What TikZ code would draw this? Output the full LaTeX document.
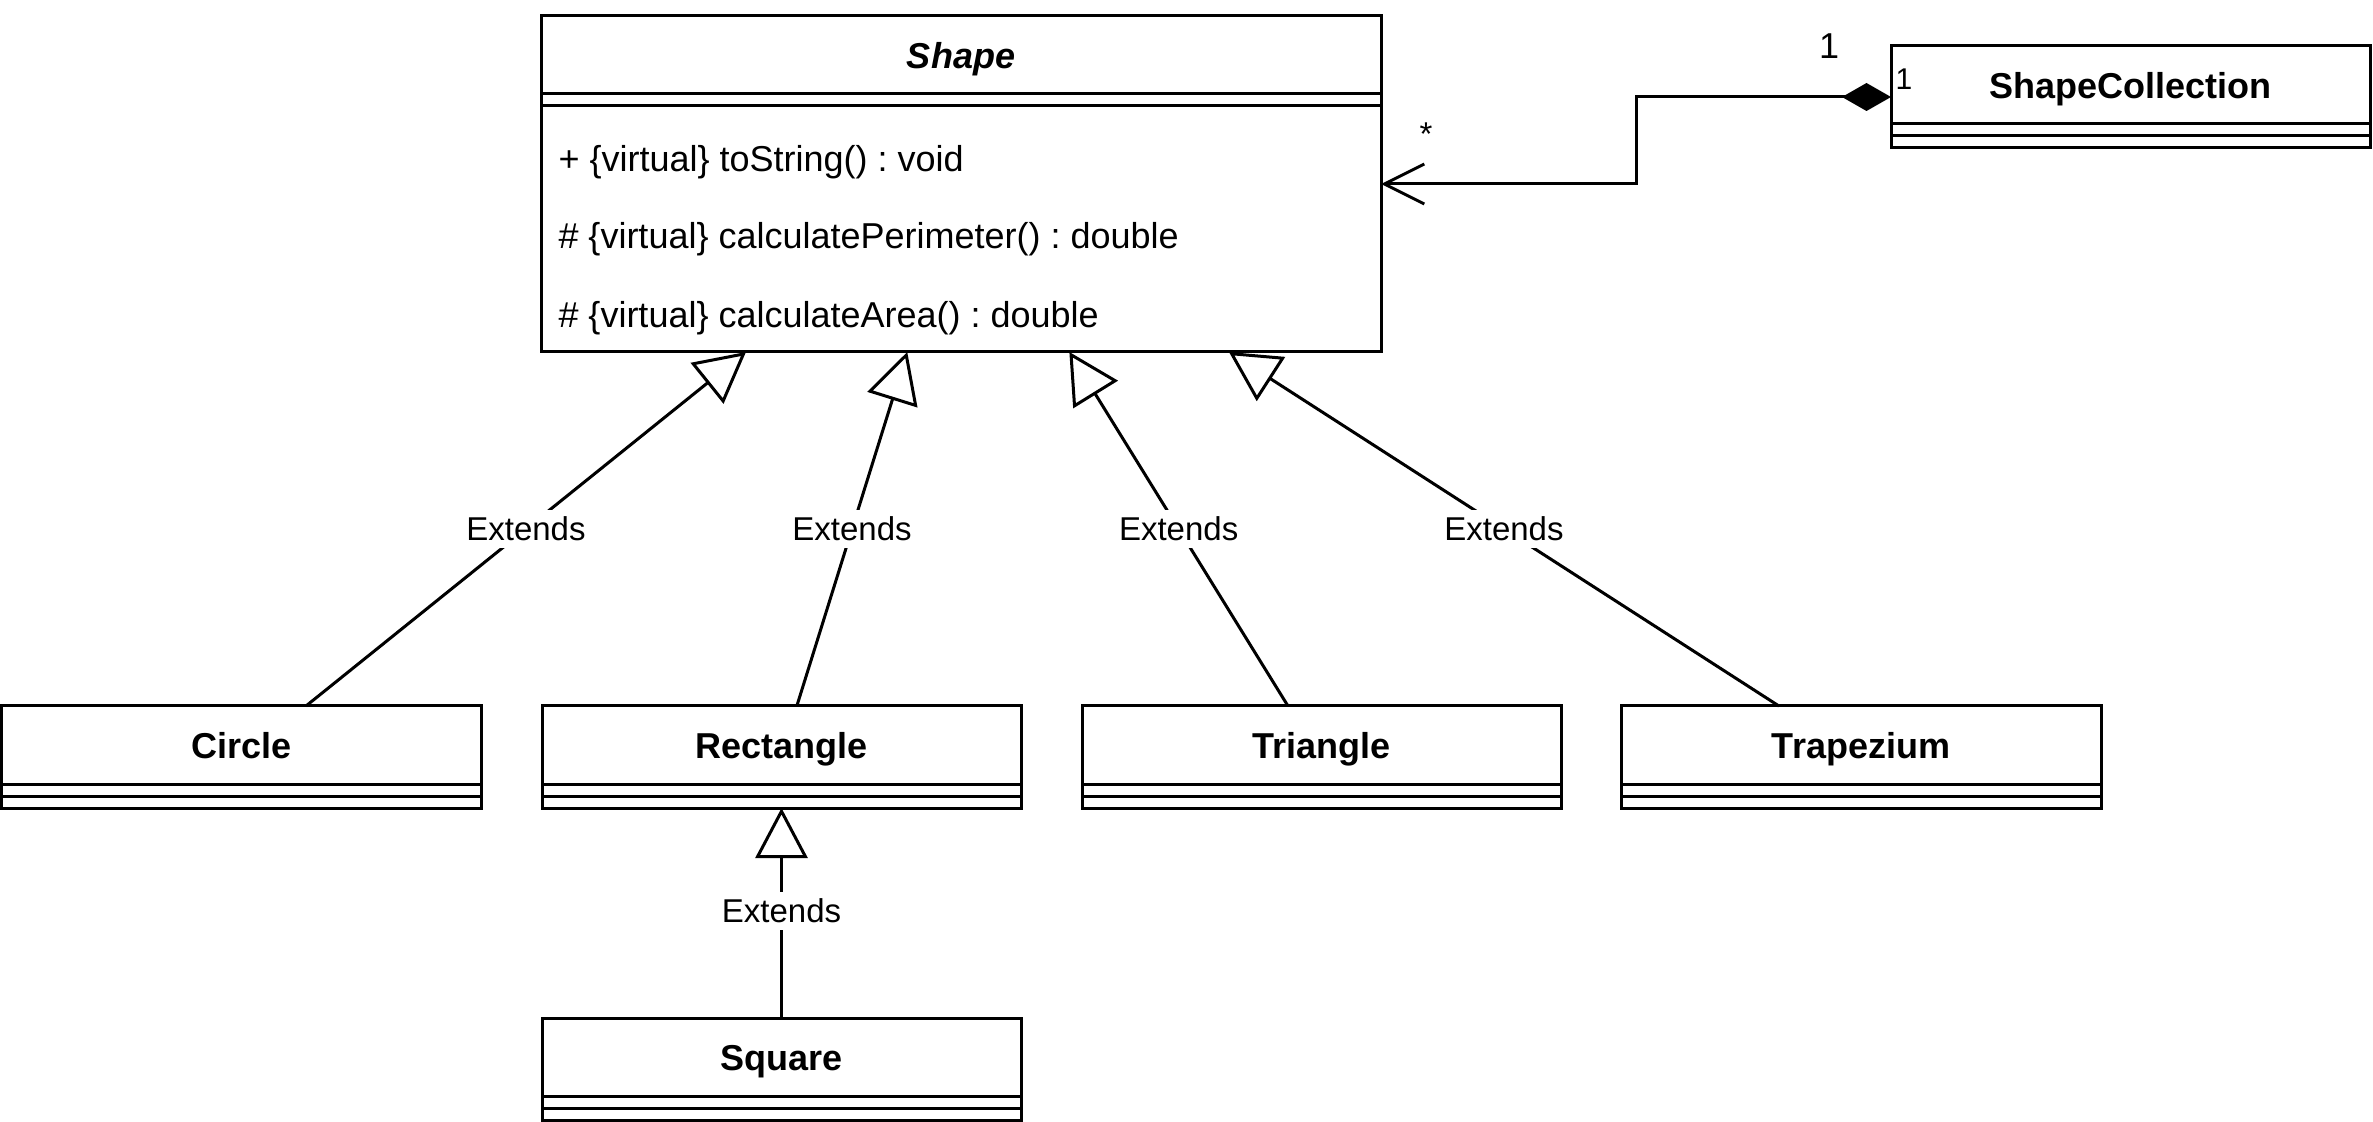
\documentclass[tikz,border=0pt]{standalone}
\usepackage{fontspec}
\setmainfont{Liberation Sans}
\usetikzlibrary{arrows.meta,calc}
\frenchspacing
\newcommand\umlclass[6]{% name, x, y, width(px), title font, title
  \node[classbox, minimum width=#4*0.5pt] (#1) at (#2,#3) {};
  \node[ctitle, #5] (#1-t) at ($(#1.north)+(0,43)$) {#6};
  \draw ($(#1.north west)+(0,78)$) -- ($(#1.north east)+(0,78)$);
  \draw ($(#1.north west)+(0,90)$) -- ($(#1.north east)+(0,90)$);
}
\begin{document}
\begin{tikzpicture}[x=0.5pt,y=-0.5pt, line width=1.5pt,
  classbox/.style={draw, line width=1.5pt, minimum height=51pt, inner sep=0pt, outer sep=0pt, anchor=north west},
  ctitle/.style={font=\fontsize{18}{21}\selectfont\bfseries, inner sep=0pt, text height=13.1pt, text depth=3.8pt},
  meth/.style={font=\fontsize{18}{21}\selectfont, anchor=west, inner sep=0pt},
  lbl/.style={font=\fontsize{16.5}{19}\selectfont, fill=white, inner xsep=2pt, inner ysep=3.5pt, text height=12pt, text depth=0pt},
  mult/.style={font=\fontsize{16.5}{19}\selectfont, inner sep=0pt, anchor=base},
  gen/.style={draw, line width=1.5pt, line join=miter, -{Triangle[open, length=25pt, width=26pt, fill=white]}},
  comp/.style={draw, line width=1.5pt, {Diamond[length=24.5pt, width=14pt]}-{Straight Barb[length=20pt, width=20pt]}}
]
\useasboundingbox (0,0) rectangle (2373,1122);

% Shape
\node[classbox, minimum width=420pt, minimum height=168pt] (shape) at (541,16) {};
\node[ctitle, font=\fontsize{18}{21}\selectfont\bfseries\itshape] (shape-t) at ($(shape.north)+(0,43)$) {Shape};
\draw ($(shape.north west)+(0,78)$) -- ($(shape.north east)+(0,78)$);
\draw ($(shape.north west)+(0,90)$) -- ($(shape.north east)+(0,90)$);
\node[meth] (m1) at (557,162) {+ \{virtual\} toString() : void};
\node[meth] (m2) at (557,239) {\# \{virtual\} calculatePerimeter() : double};
\node[meth] (m3) at (557,318) {\# \{virtual\} calculateArea() : double};

% Subclasses
\umlclass{circle}{1.5}{706}{479.5}{}{Circle}
\umlclass{rect}{542}{706}{479}{}{Rectangle}
\umlclass{tri}{1082}{706}{479}{}{Triangle}
\umlclass{trap}{1621}{706}{480}{}{Trapezium}
\umlclass{square}{542}{1018}{479}{}{Square}
\umlclass{scoll}{1891}{46}{479}{}{ShapeCollection}

% Generalizations
\draw[gen] ($(circle.north west)!0.635!(circle.north east)$) -- node[lbl] {Extends} ($(shape.south west)!0.244!(shape.south east)$);
\draw[gen] ($(rect.north west)!0.532!(rect.north east)$) -- node[lbl] {Extends} ($(shape.south west)!0.436!(shape.south east)$);
\draw[gen] ($(tri.north west)!0.430!(tri.north east)$) -- node[lbl] {Extends} ($(shape.south west)!0.629!(shape.south east)$);
\draw[gen] ($(trap.north west)!0.329!(trap.north east)$) -- node[lbl] {Extends} ($(shape.south west)!0.819!(shape.south east)$);
\draw[gen] (square.north) -- node[lbl, pos=0.51] {Extends} (rect.south);

% Composition
\draw[comp] (scoll.west) -- ++(-255,0) |- (shape.east);
\node[mult, font=\fontsize{18}{21}\selectfont] (mult-top) at (1829,59) {1};
\node[mult, font=\fontsize{15}{18}\selectfont] (mult-in) at (1904,90) {1};
\node[mult] (mult-star) at (1426,146) {*};
\end{tikzpicture}
\end{document}
